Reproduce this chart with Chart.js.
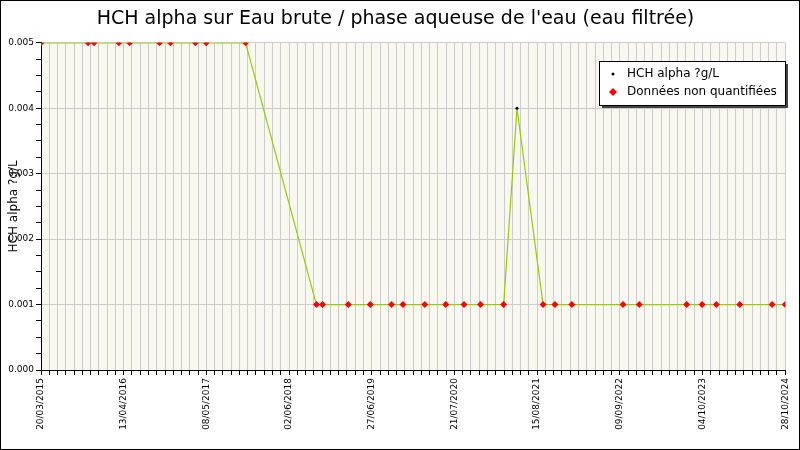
<!DOCTYPE html>
<html>
<head>
<meta charset="utf-8">
<script src="https://cdn.jsdelivr.net/npm/chart.js@4"></script>
<style>
  body { margin: 0; background: #fff; }
  #wrap { width: 798px; height: 448px; border: 1px solid #000; position: relative; }
</style>
</head>
<body>
<div id="wrap"><canvas id="chart" width="798" height="448"></canvas></div>
<script>
// days since 20/03/2015
const sampleDays = [0, 222, 250, 367, 418, 559, 611, 728, 779, 965,
    1299, 1328, 1449, 1553, 1653, 1707, 1810, 1909, 1995, 2073, 2182,
    2245, 2368, 2424, 2504, 2745, 2822, 3045, 3118, 3185, 3296, 3448, 3510];
const sampleValues = [0.005, 0.005, 0.005, 0.005, 0.005, 0.005, 0.005, 0.005, 0.005, 0.005,
    0.001, 0.001, 0.001, 0.001, 0.001, 0.001, 0.001, 0.001, 0.001, 0.001, 0.001,
    0.004, 0.001, 0.001, 0.001, 0.001, 0.001, 0.001, 0.001, 0.001, 0.001, 0.001, 0.001];
const quantified = [false, false, false, false, false, false, false, false, false, false,
    false, false, false, false, false, false, false, false, false, false, false,
    true, false, false, false, false, false, false, false, false, false, false, false];
const startDate = Date.UTC(2015, 2, 20);
const yMax = 0.005;

function fmtDate(d) {
    const t = new Date(startDate + d * 86400000);
    const p = n => String(n).padStart(2, '0');
    return p(t.getUTCDate()) + '/' + p(t.getUTCMonth() + 1) + '/' + t.getUTCFullYear();
}

const isMajor = v => Math.abs(v * 1000 - Math.round(v * 1000)) < 1e-6;

const lineData = sampleDays.map((d, i) => ({ x: d, y: sampleValues[i] }));
const nqData = sampleDays.map((d, i) => ({ x: d, y: sampleValues[i] })).filter((p, i) => !quantified[i]);

const font = { family: 'DejaVu Sans', size: 9 };

// plot background + legend box
const decor = {
    id: 'decor',
    beforeDatasetsDraw(chart) {
        const { ctx, chartArea: a } = chart;
        ctx.save();
        ctx.globalCompositeOperation = 'destination-over';
        ctx.fillStyle = '#f8f8f0';
        ctx.fillRect(a.left, a.top, a.right - a.left, a.bottom - a.top);
        ctx.restore();
    },
    afterDraw(chart) {
        const { ctx } = chart;
        const x = 598, y = 60, w = 186, h = 44;
        ctx.save();
        ctx.fillStyle = '#444';
        ctx.fillRect(x + 3, y + 3, w, h);
        ctx.fillStyle = '#fff';
        ctx.fillRect(x, y, w, h);
        ctx.strokeStyle = '#000';
        ctx.lineWidth = 1;
        ctx.strokeRect(x + 0.5, y + 0.5, w, h);
        ctx.font = '12px "DejaVu Sans"';
        ctx.textBaseline = 'middle';
        ctx.fillStyle = '#000';
        ctx.beginPath(); ctx.arc(x + 14, y + 13, 1.5, 0, Math.PI * 2); ctx.fill();
        ctx.fillText(chart.data.datasets[0].label, x + 28, y + 13);
        ctx.fillStyle = 'red';
        ctx.beginPath();
        ctx.moveTo(x + 14, y + 27); ctx.lineTo(x + 18, y + 31); ctx.lineTo(x + 14, y + 35); ctx.lineTo(x + 10, y + 31);
        ctx.closePath(); ctx.fill();
        ctx.fillStyle = '#000';
        ctx.fillText(chart.data.datasets[1].label, x + 28, y + 31);
        ctx.restore();
    }
};

new Chart(document.getElementById('chart'), {
    type: 'scatter',
    data: {
        datasets: [{
            label: 'HCH alpha ?g/L',
            data: lineData,
            showLine: true,
            borderColor: '#99cc00',
            borderWidth: 1.2,
            pointRadius: 1.5,
            pointBackgroundColor: '#000',
            pointBorderWidth: 0,
            order: 2
        }, {
            label: 'Données non quantifiées',
            data: nqData,
            showLine: false,
            pointStyle: 'rectRot',
            pointRadius: 3.5,
            pointBackgroundColor: 'red',
            pointBorderColor: 'red',
            pointBorderWidth: 0,
            order: 1
        }]
    },
    options: {
        responsive: false,
        animation: false,
        layout: { padding: { top: 0, right: 9, left: 0, bottom: 0 } },
        plugins: {
            legend: { display: false },
            tooltip: { enabled: false },
            title: {
                display: true,
                text: "HCH alpha sur Eau brute / phase aqueuse de l'eau (eau filtrée)",
                color: '#000',
                font: { family: 'DejaVu Sans', size: 19, weight: 'normal' },
                padding: { top: 7, bottom: 12 }
            }
        },
        scales: {
            x: {
                type: 'linear',
                min: 0,
                max: 3510,
                border: { color: '#000', width: 1 },
                grid: { color: '#cccccc', tickColor: '#000', tickLength: 5 },
                afterBuildTicks(axis) {
                    const t = [];
                    for (let d = 0; d <= 3510; d += 39) t.push({ value: d });
                    axis.ticks = t;
                },
                afterFit(axis) { axis.height = 79; },
                ticks: {
                    autoSkip: false,
                    maxRotation: 90,
                    minRotation: 90,
                    color: '#000',
                    font,
                    callback: v => (v % 390 === 0 ? fmtDate(v) : '')
                }
            },
            y: {
                min: 0,
                max: yMax,
                border: { color: '#000', width: 1 },
                title: { display: true, text: 'HCH alpha ?g/L', color: '#000', font: { family: 'DejaVu Sans', size: 12 }, padding: { top: 6, bottom: 0 } },
                grid: {
                    color: c => (isMajor(c.tick.value) ? '#cccccc' : 'rgba(0,0,0,0)'),
                    tickColor: '#000',
                    tickLength: 5
                },
                afterBuildTicks(axis) {
                    const t = [];
                    for (let i = 0; i <= 20; i++) t.push({ value: i * 0.00025 });
                    axis.ticks = t;
                },
                afterFit(axis) { axis.width = 40; },
                ticks: {
                    autoSkip: false,
                    color: '#000',
                    font,
                    padding: 2,
                    callback: v => (isMajor(v) ? v.toFixed(3) : '')
                }
            }
        }
    },
    plugins: [decor]
});
</script>
</body>
</html>
